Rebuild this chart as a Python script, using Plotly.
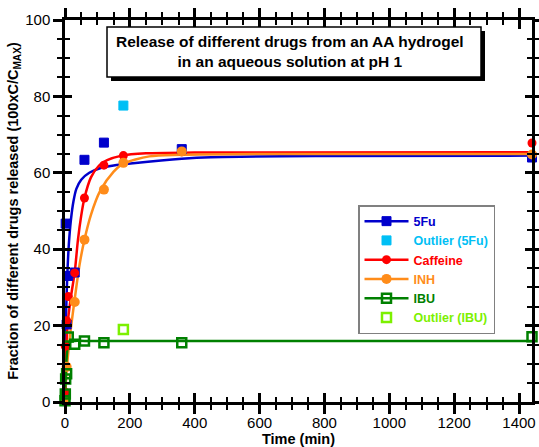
import plotly.graph_objects as go

# ---- measured release data (time in min, % released) ----
fu_t = [0, 2, 5, 10, 30, 60, 120, 360, 1440]
fu_y = [1.5, 46.7, 20.3, 33.0, 33.9, 63.4, 67.9, 66.2, 64.0]
fu_out_t = [180]
fu_out_y = [77.6]

caf_t = [0, 1, 5, 10, 30, 60, 120, 180, 360, 1440]
caf_y = [2.6, 14.6, 21.3, 27.6, 33.8, 53.4, 62.0, 64.5, 65.5, 67.8]

inh_t = [0, 5, 30, 60, 120, 180, 360, 1440]
inh_y = [0.5, 9.2, 26.2, 42.5, 55.6, 62.6, 65.6, 64.8]

ibu_t = [0, 1, 2, 5, 10, 30, 60, 120, 360, 1440]
ibu_y = [0.3, 2.1, 6.0, 7.4, 17.0, 15.1, 16.0, 15.5, 15.5, 17.1]
ibu_out_t = [180]
ibu_out_y = [19.0]

# ---- fitted release curves ----
fu_fit_t = [0, 1, 3, 5, 8, 12, 18, 26, 35, 50, 75, 108, 150, 210, 360, 450, 800, 1440]
fu_fit_y = [0, 10, 21.5, 28, 35, 41.5, 47.5, 52.5, 55.8, 58.2, 60.0, 61.2, 61.9, 62.5, 63.7, 64.1, 64.4, 64.5]

caf_fit_t = [0, 2, 5, 10, 20, 30, 40, 50, 60, 80, 105, 130, 175, 250, 400, 1440]
caf_fit_y = [3, 10, 16, 22, 28.5, 34.0, 42.5, 48.8, 53.4, 58.8, 61.9, 63.3, 64.5, 65.1, 65.3, 65.4]

inh_fit_t = [0, 5, 15, 30, 45, 60, 80, 108, 150, 180, 260, 360, 600, 1440]
inh_fit_y = [0, 8, 17, 27, 36, 42.5, 49, 55.2, 60.3, 62.4, 64.3, 64.7, 64.9, 64.9]

ibu_fit_t = [0, 2, 5, 8, 12, 18, 30, 60, 1440]
ibu_fit_y = [0, 6.5, 11.5, 14.2, 15.4, 15.9, 16.0, 16.0, 16.0]

BLUE = "#0000CC"
CYAN = "#00BFF5"
RED = "#FF0000"
ORANGE = "#FF8C1A"
GREEN = "#008000"
LGREEN = "#7CF000"

FONT = "Liberation Sans, Arial, sans-serif"

# plot-area geometry in pixels (for placing the caption box and legend)
W, H = 539, 447
ML, MR, MT, MB = 65, 7, 20, 45
PW, PH = W - ML - MR, H - MT - MB


def px_x(p):
    return (p - ML) / PW


def px_y(p):
    return (H - MB - p) / PH


def lbl(text, color):
    return f'<span style="color:{color}"><b>{text}</b></span>'


fig = go.Figure()

# fitted curves
for t, y, c in [(fu_fit_t, fu_fit_y, BLUE), (caf_fit_t, caf_fit_y, RED),
                (inh_fit_t, inh_fit_y, ORANGE), (ibu_fit_t, ibu_fit_y, GREEN)]:
    fig.add_trace(go.Scatter(x=t, y=y, mode="lines", showlegend=False,
                             line=dict(color=c, width=2.5, shape="spline", smoothing=0.8),
                             hoverinfo="skip"))

# series styles: name, colour, marker, whether the series has a fitted line
series = [
    ("5Fu", BLUE, dict(symbol="square", size=9, color=BLUE, line=dict(color=BLUE, width=1)), True, fu_t, fu_y),
    ("Outlier (5Fu)", CYAN, dict(symbol="square", size=9, color=CYAN, line=dict(color=CYAN, width=1)), False, fu_out_t, fu_out_y),
    ("Caffeine", RED, dict(symbol="circle", size=9, color=RED), True, caf_t, caf_y),
    ("INH", ORANGE, dict(symbol="circle", size=10, color=ORANGE), True, inh_t, inh_y),
    ("IBU", GREEN, dict(symbol="square-open", size=9, color=GREEN, line=dict(color=GREEN, width=2.5)), True, ibu_t, ibu_y),
    ("Outlier (IBU)", LGREEN, dict(symbol="square-open", size=9, color=LGREEN, line=dict(color=LGREEN, width=2.5)), False, ibu_out_t, ibu_out_y),
]

# measured points
for name, color, marker, has_fit, t, y in series:
    fig.add_trace(go.Scatter(x=t, y=y, mode="markers", showlegend=False, name=name,
                             marker=marker, cliponaxis=False))

# legend entries (line + symbol for fitted series, symbol only for outliers)
for name, color, marker, has_fit, t, y in series:
    fig.add_trace(go.Scatter(x=[None], y=[None], name=lbl(name, color),
                             mode="lines+markers" if has_fit else "markers",
                             line=dict(color=color, width=2.5), marker=marker,
                             hoverinfo="skip"))

# invisible trace hosting the inner tick axes
fig.add_trace(go.Scatter(x=[None], y=[None], xaxis="x2", yaxis="y2",
                         showlegend=False, hoverinfo="skip"))

tickfont = dict(family=FONT, size=15, color="black")
axis_common = dict(showline=True, linecolor="black", linewidth=2.5, showgrid=False,
                   zeroline=False, ticks="outside", tickcolor="black", tickwidth=2.5,
                   ticklen=9, mirror="ticks", automargin=False)

fig.update_layout(
    width=W, height=H,
    margin=dict(l=ML, r=MR, t=MT, b=MB),
    paper_bgcolor="white", plot_bgcolor="white",
    font=dict(family=FONT, color="black"),
    # outer half of the crossing ticks; x tick labels are carried by the inner axis
    xaxis=dict(range=[0, 1440], dtick=200, tick0=0, showticklabels=False,
               minor=dict(dtick=50, ticks="outside", ticklen=5, tickwidth=2, tickcolor="black"),
               title=dict(text="<b>Time (min)</b>", font=dict(family=FONT, size=14.5), standoff=27),
               **axis_common),
    yaxis=dict(range=[0, 100], dtick=20, tick0=0, tickfont=tickfont,
               minor=dict(dtick=5, ticks="outside", ticklen=5, tickwidth=2, tickcolor="black"),
               title=dict(text="<b>Fraction of different drugs released (100xC/C<sub>MAX</sub>)</b>",
                          font=dict(family=FONT, size=14.5), standoff=4),
               **axis_common),
    # inner half of the crossing ticks
    xaxis2=dict(overlaying="x", matches="x", anchor="y2", side="bottom", range=[0, 1440],
                dtick=200, tick0=0, ticks="inside", ticklen=9, tickwidth=2.5, tickcolor="black",
                mirror="ticks", showline=False, showgrid=False, zeroline=False,
                showticklabels=True, tickfont=tickfont, ticklabelstandoff=10, automargin=False,
                minor=dict(dtick=50, ticks="inside", ticklen=5, tickwidth=2, tickcolor="black")),
    yaxis2=dict(overlaying="y", matches="y", anchor="x2", range=[0, 100], dtick=20, tick0=0,
                ticks="inside", ticklen=7, tickwidth=2.5, tickcolor="black", mirror="ticks",
                showline=False, showgrid=False, zeroline=False, showticklabels=False,
                automargin=False,
                minor=dict(dtick=5, ticks="inside", ticklen=5, tickwidth=2, tickcolor="black")),
    legend=dict(x=px_x(358), y=px_y(205), xanchor="left", yanchor="top",
                bgcolor="white", bordercolor="#808080", borderwidth=1.5,
                font=dict(family=FONT, size=12.5), tracegroupgap=0,
                itemwidth=44),
    showlegend=True,
)

# caption box with drop shadow
fig.add_shape(type="rect", xref="paper", yref="paper",
              x0=px_x(111), x1=px_x(485), y0=px_y(81), y1=px_y(31),
              fillcolor="black", line=dict(width=0), layer="above")
fig.add_shape(type="rect", xref="paper", yref="paper",
              x0=px_x(107), x1=px_x(481), y0=px_y(77), y1=px_y(27),
              fillcolor="white", line=dict(color="black", width=1.5), layer="above")
fig.add_annotation(xref="paper", yref="paper", x=px_x(290), y=px_y(52),
                   text="<b>Release of different drugs from an AA hydrogel<br>in an aqueous solution at pH 1</b>",
                   showarrow=False, font=dict(family=FONT, size=15.5, color="black"),
                   align="center", xanchor="center", yanchor="middle")

fig.write_html("out.html")
